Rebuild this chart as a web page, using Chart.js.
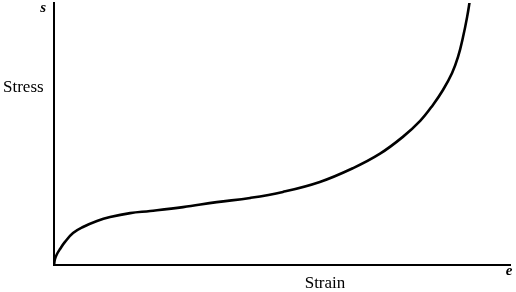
<!DOCTYPE html>
<html>
<head>
<meta charset="utf-8">
<script src="https://cdn.jsdelivr.net/npm/chart.js@4/dist/chart.umd.min.js"></script>
<style>
  html, body { margin: 0; padding: 0; background: #fff; }
  #wrap { width: 516px; height: 292px; position: relative; }
</style>
</head>
<body>
<div id="wrap"><canvas id="myChart"></canvas></div>
<script>
// stress-strain curve, values (0..100 on both axes)
const strainValues = [0, 0.22, 0.66, 1.32, 2.41, 4.17, 6.36, 9.43, 12.3, 16.7, 21.1, 28.3, 35.7, 43.0, 50.2, 58.3, 65.6, 71.5, 76.5, 80.3, 83.1, 85.3, 87.3, 88.6, 89.7, 90.6, 91.2];
const stressValues = [0, 2.3, 4.2, 6.1, 8.8, 12.2, 14.5, 16.8, 18.3, 19.8, 20.6, 22.1, 24.0, 25.6, 27.9, 31.7, 37.0, 42.5, 48.9, 55.0, 61.1, 66.8, 73.3, 79.4, 87.0, 94.7, 101];
const axisLabels = { yTop: 's', yName: 'Stress', xEnd: 'e', xName: 'Strain' };

const points = strainValues.map((v, i) => ({ x: v, y: stressValues[i] }));

// labels drawn next to the axes
const axisText = {
    id: 'axisText',
    afterDraw(chart) {
        const ctx = chart.ctx;
        const a = chart.chartArea;
        ctx.save();
        ctx.fillStyle = '#000';
        ctx.textBaseline = 'middle';
        ctx.font = 'italic bold 15px "Liberation Serif", serif';
        ctx.textAlign = 'right';
        ctx.fillText(axisLabels.yTop, a.left - 8, a.top + 5);
        ctx.textAlign = 'center';
        ctx.fillText(axisLabels.xEnd, a.right - 1, a.bottom + 6);
        ctx.font = '17px "Liberation Serif", serif';
        ctx.textAlign = 'left';
        ctx.fillText(axisLabels.yName, 3, 88);
        ctx.textAlign = 'center';
        ctx.fillText(axisLabels.xName, 325, 284);
        ctx.restore();
    }
};

const ctx = document.getElementById('myChart').getContext('2d');
const myChart = new Chart(ctx, {
    type: 'line',
    data: {
        datasets: [{
            data: points,
            borderColor: '#000',
            borderWidth: 2.6,
            pointRadius: 0,
            tension: 0.4,
            fill: false
        }]
    },
    options: {
        responsive: true,
        maintainAspectRatio: false,
        animation: false,
        layout: { padding: { left: 46, right: 6, top: 3, bottom: 19 } },
        plugins: { legend: { display: false }, tooltip: { enabled: false } },
        scales: {
            x: {
                type: 'linear', min: 0, max: 100,
                ticks: { display: false },
                grid: { display: false },
                border: { display: true, color: '#000', width: 2 }
            },
            y: {
                min: 0, max: 100,
                ticks: { display: false },
                grid: { display: false },
                border: { display: true, color: '#000', width: 2 }
            }
        }
    },
    plugins: [axisText]
});
</script>
</body>
</html>
